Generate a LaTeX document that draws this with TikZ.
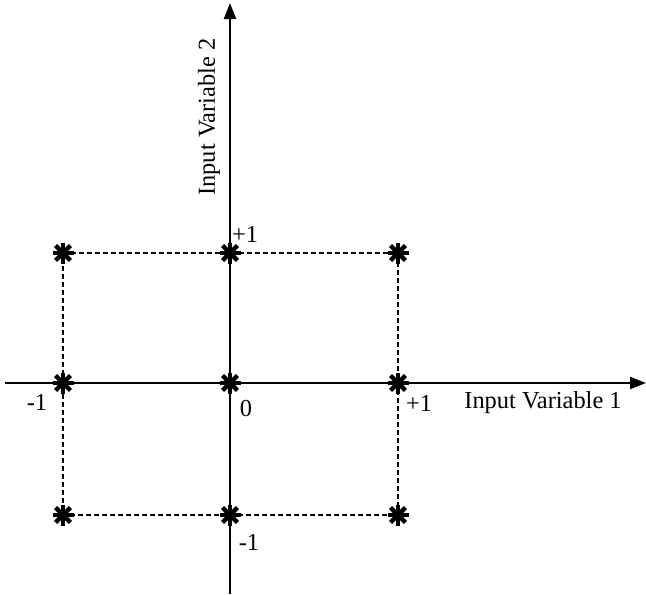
\documentclass[tikz,border=0pt]{standalone}
\usepackage{fontspec}
\setmainfont{Liberation Serif}
\usetikzlibrary{arrows.meta,calc}
\begin{document}
\begin{tikzpicture}[x=0.75pt,y=-0.75pt,
  axis/.style={line width=1.6pt,-{Triangle[length=12pt,width=9pt]}},
  guide/.style={line width=0.8pt,dash pattern=on 3.5pt off 2.5pt},
  lbl/.style={font=\fontsize{18.3}{21}\selectfont,inner sep=0pt},
  starmark/.style={line width=3.2pt}]
\useasboundingbox (0,0) rectangle (646,594);
% named points
\coordinate (xs) at (5,383);
\coordinate (xe) at (646,383);
\coordinate (ys) at (230,594);
\coordinate (ye) at (230,3);
\coordinate (p11) at (63,253);
\coordinate (p12) at (230,253);
\coordinate (p13) at (398,253);
\coordinate (p21) at (63,383);
\coordinate (p22) at (230,383);
\coordinate (p23) at (398,383);
\coordinate (p31) at (63,515);
\coordinate (p32) at (230,515);
\coordinate (p33) at (398,515);
% dashed square
\draw[guide] (p11) -- (p12) -- (p13) -- (p23) -- (p33) -- (p32) -- (p31) -- (p21) -- cycle;
% axes
\draw[axis] (xs) -- (xe);
\draw[axis] (ys) -- (ye);
% star markers
\foreach \p in {p11,p12,p13,p21,p22,p23,p31,p32,p33}{
  \foreach \a in {0,45,90,135}{
    \draw[starmark] ($(\p)+(\a:10.5)$) -- ($(\p)+(\a+180:10.5)$);
  }
}
% labels
\node[lbl,rotate=90] (ylab) at (209,117) {Input Variable 2};
\node[lbl] (xlab) at (543,403) {Input Variable 1};
\node[lbl] (ytop) at (245,234) {+1};
\node[lbl] (ybot) at (249,542) {-1};
\node[lbl] (xleft) at (37,402) {-1};
\node[lbl] (xright) at (419,403) {+1};
\node[lbl] (orig) at (246,408) {0};
\end{tikzpicture}
\end{document}
